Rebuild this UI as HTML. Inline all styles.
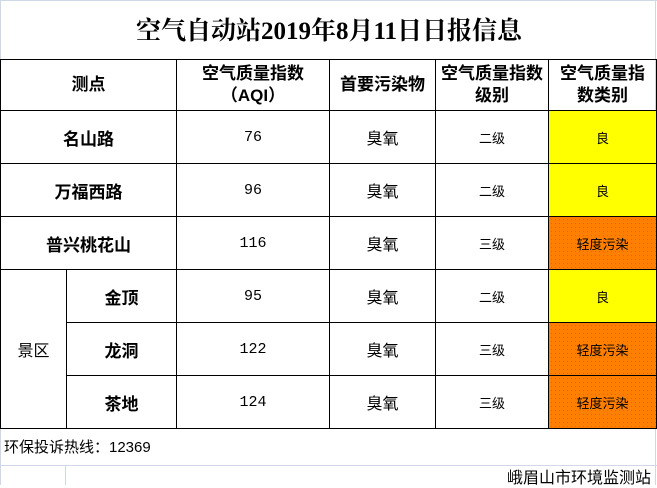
<!DOCTYPE html>
<html><head><meta charset="utf-8"><style>
body{margin:0;width:657px;height:485px;background:#fff;position:relative;overflow:hidden;font-family:"Liberation Serif","Noto Serif CJK SC",serif;}
.t{position:absolute;left:0;top:0;width:657px;height:59px;border-top:1px solid #d0d7e5;border-left:1px solid #d0d7e5;box-sizing:border-box;text-align:center;line-height:62px;font-size:25px;font-weight:bold;}
table{position:absolute;left:0;top:59px;border-collapse:collapse;table-layout:fixed}
td{border:1.5px solid #000;text-align:center;padding:0;font-size:15px;font-family:"Liberation Mono","Noto Sans CJK SC",monospace}
.h{font-weight:bold;font-size:17px;font-family:"Liberation Sans","Noto Sans CJK SC",sans-serif;line-height:22px}
.b{font-weight:bold;font-size:17px;font-family:"Liberation Sans","Noto Sans CJK SC",sans-serif}
.s{font-size:13px;font-family:"Liberation Sans","Noto Sans CJK SC",sans-serif}
.o{font-size:16px;font-family:"Liberation Sans","Noto Sans CJK SC",sans-serif}
.y{background:#ffff00}
.r{background:#ff8000 radial-gradient(#f06000 0.6px,transparent 0.8px) 0 0/4px 4px}
.hot{position:absolute;left:4px;top:436px;font-size:15px;font-family:"Liberation Sans","Noto Sans CJK SC",sans-serif}
.g1{position:absolute;left:0;top:465px;width:657px;height:1px;background:#d0d7e5}
.g2{position:absolute;left:65px;top:465px;width:1px;height:20px;background:#d0d7e5}
.gl{position:absolute;left:0;top:0;width:1px;height:485px;background:#d0d7e5}
.gr{position:absolute;left:655px;top:0;width:1px;height:485px;background:#d0d7e5}
.ft{position:absolute;right:6px;top:464px;font-size:16px;font-family:"Liberation Sans","Noto Sans CJK SC",sans-serif}
</style></head><body>
<div class="gl"></div><div class="gr"></div>
<div class="t">空气自动站2019年8月11日日报信息</div>
<table>
<colgroup><col style="width:66px"><col style="width:110px"><col style="width:153px"><col style="width:106px"><col style="width:113px"><col style="width:108px"></colgroup>
<tr style="height:51px"><td colspan="2" class="h">测点</td><td class="h">空气质量指数<br>（AQI）</td><td class="h">首要污染物</td><td class="h">空气质量指数<br>级别</td><td class="h">空气质量指<br>数类别</td></tr>
<tr style="height:53px"><td colspan="2" class="b">名山路</td><td>76</td><td class="o">臭氧</td><td class="s">二级</td><td class="s y">良</td></tr>
<tr style="height:53px"><td colspan="2" class="b">万福西路</td><td>96</td><td class="o">臭氧</td><td class="s">二级</td><td class="s y">良</td></tr>
<tr style="height:53px"><td colspan="2" class="b">普兴桃花山</td><td>116</td><td class="o">臭氧</td><td class="s">三级</td><td class="s r">轻度污染</td></tr>
<tr style="height:53px"><td rowspan="3" class="o">景区</td><td class="b">金顶</td><td>95</td><td class="o">臭氧</td><td class="s">二级</td><td class="s y">良</td></tr>
<tr style="height:53px"><td class="b">龙洞</td><td>122</td><td class="o">臭氧</td><td class="s">三级</td><td class="s r">轻度污染</td></tr>
<tr style="height:53px"><td class="b">茶地</td><td>124</td><td class="o">臭氧</td><td class="s">三级</td><td class="s r">轻度污染</td></tr>
</table>
<div class="hot">环保投诉热线：12369</div>
<div class="g1"></div><div class="g2"></div>
<div class="ft">峨眉山市环境监测站</div>
</body></html>
